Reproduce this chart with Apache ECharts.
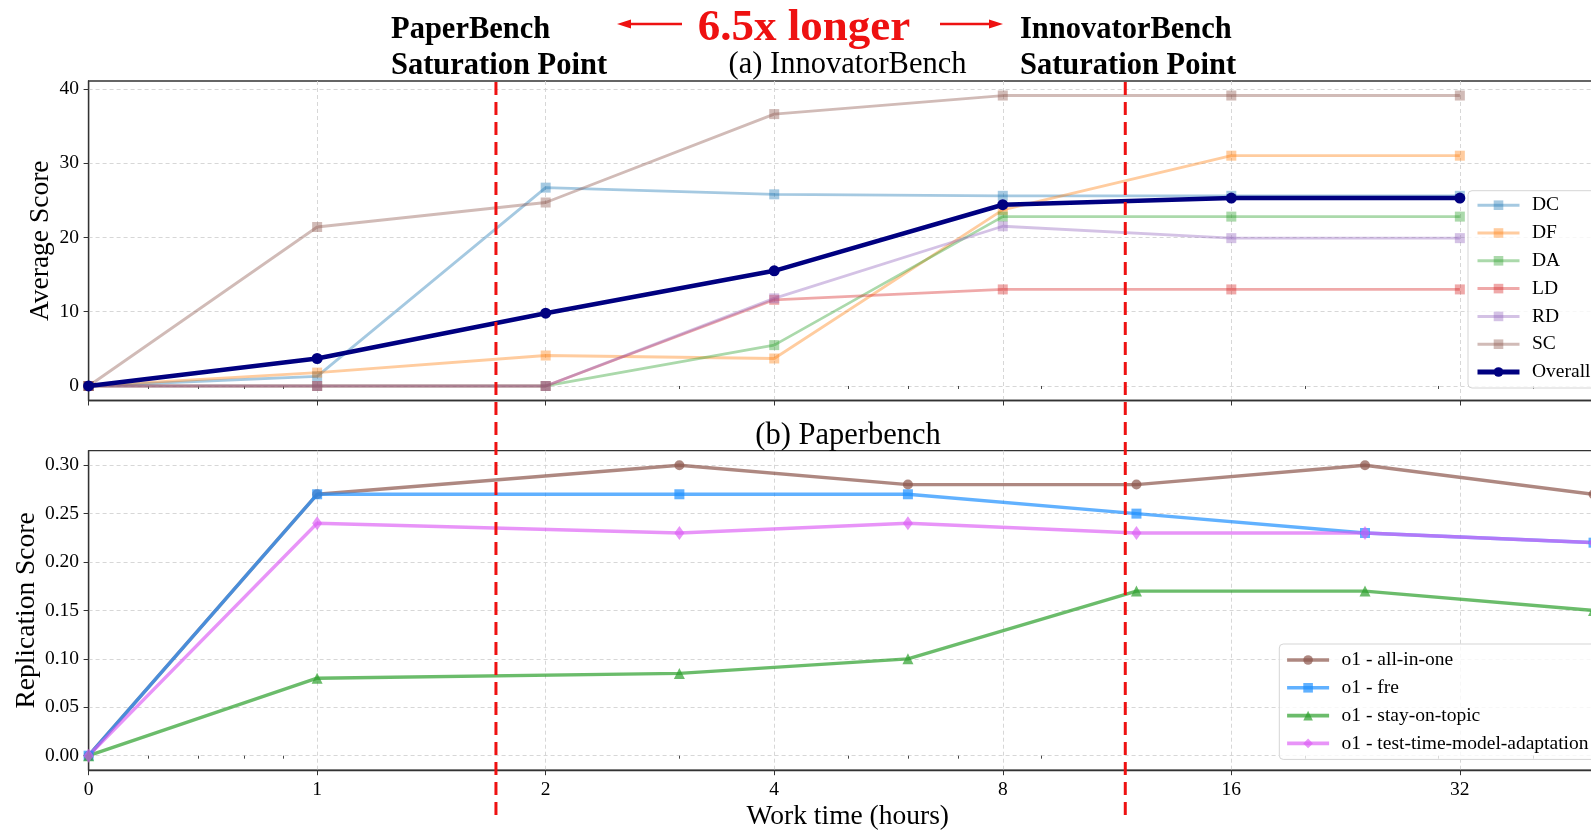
<!DOCTYPE html>
<html><head><meta charset="utf-8">
<script src="https://cdn.jsdelivr.net/npm/echarts@6/dist/echarts.min.js"></script>
<style>html,body{margin:0;padding:0;background:#fff}#c{width:1591px;height:831px}</style>
</head><body><div id="c"></div>
<script>
// ---------- data ----------
const topHours = [0, 1, 2, 4, 8, 16, 32];
const DC      = [0, 1.3, 26.7, 25.8, 25.6, 25.6, 25.6];
const DF      = [0, 1.8, 4.1, 3.7, 23.7, 31.0, 31.0];
const DA      = [0, 0, 0, 5.5, 22.8, 22.8, 22.8];
const LD      = [0, 0, 0, 11.6, 13.0, 13.0, 13.0];
const RD      = [0, 0, 0, 11.8, 21.5, 19.9, 19.9];
const SC      = [0, 21.4, 24.7, 36.6, 39.1, 39.1, 39.1];
const Overall = [0, 3.7, 9.8, 15.5, 24.4, 25.3, 25.3];

const bottomHours = [0, 1, 3, 6, 12, 24, 48];
const allInOne    = [0, 0.27, 0.30, 0.28, 0.28, 0.30, 0.27];
const fre         = [0, 0.27, 0.27, 0.27, 0.25, 0.23, 0.22];
const stayOnTopic = [0, 0.08, 0.085, 0.10, 0.17, 0.17, 0.15];
const ttma        = [0, 0.24, 0.23, 0.24, 0.23, 0.23, 0.22];

const xTickHours  = [0, 1, 2, 4, 8, 16, 32];
const xTickLabels = ['0', '1', '2', '4', '8', '16', '32'];
const xMinorHours = [0.26, 0.48, 0.68, 0.85, 3, 5, 6, 7, 9, 20, 30, 40];
const xMaxHours = 50;
const topYTicks = [0, 10, 20, 30, 40];
const bottomYTicks = [0, 0.05, 0.10, 0.15, 0.20, 0.25, 0.30];
const saturationHours = [1.72, 11.6]; // PaperBench, InnovatorBench

// ---------- helpers ----------
const SERIF = "'Liberation Serif','Times New Roman',Times,serif";
const tx = h => (h <= 1 ? h : 1 + Math.log2(h));   // symlog-style work-time scale
const pairs = (hs, vs) => hs.map((h, i) => [tx(h), vs[i]]);
const majorT = xTickHours.map(tx);
const minorT = xMinorHours.map(tx);
const AX = '#333';
const GRIDLINE = {show: true, lineStyle: {color: '#d2d2d2', width: 0.9, type: [4, 3]}};

function mainX(grid, labels, name) {
  return {
    type: 'value', gridIndex: grid, position: 'bottom', min: 0, max: tx(xMaxHours), splitNumber: 6,
    axisLine: {show: true, onZero: false, lineStyle: {color: AX, width: 1.3}},
    axisTick: {show: true, customValues: majorT, length: 5, lineStyle: {color: AX, width: 1}},
    axisLabel: labels ? {
      show: true, customValues: majorT, margin: 10, color: '#000', fontFamily: SERIF, fontSize: 19.5,
      formatter: v => { const i = majorT.findIndex(t => Math.abs(t - v) < 1e-6); return i >= 0 ? xTickLabels[i] : ''; }
    } : {show: false},
    splitLine: GRIDLINE,
    name: name || '', nameLocation: 'middle', nameGap: 33, nameMoveOverlap: false,
    nameTextStyle: {fontFamily: SERIF, fontSize: 27.5, color: '#000'}
  };
}
function minorX(grid) {
  return {
    type: 'value', gridIndex: grid, position: 'bottom', offset: 0, min: 0, max: tx(xMaxHours),
    axisLine: {show: false}, axisLabel: {show: false}, splitLine: {show: false},
    axisTick: {show: true, customValues: minorT, length: 3, lineStyle: {color: AX, width: 0.9}}
  };
}
function yAx(grid, min, max, ticks, fmt, name, gap, splitNumber) {
  return {
    type: 'value', gridIndex: grid, min: min, max: max, splitNumber: splitNumber,
    axisLine: {show: true, onZero: false, lineStyle: {color: AX, width: 1.3}},
    axisTick: {show: true, customValues: ticks, length: 5, lineStyle: {color: AX, width: 1}},
    axisLabel: {show: true, customValues: ticks, formatter: fmt, margin: 9.5, color: '#000', fontFamily: SERIF, fontSize: 19.5},
    splitLine: GRIDLINE,
    name: name, nameLocation: 'middle', nameGap: gap, nameMoveOverlap: false,
    nameTextStyle: {fontFamily: SERIF, fontSize: 27.5, color: '#000'}
  };
}
function topSeries(name, vals, color, opts) {
  opts = opts || {};
  return {
    type: 'line', name: name, xAxisIndex: 0, yAxisIndex: 0, data: pairs(topHours, vals),
    symbol: opts.symbol || 'rect', symbolSize: opts.size || 10, showSymbol: true,
    lineStyle: {color: color, width: opts.width || 2.8}, itemStyle: {color: color},
    emphasis: {disabled: true}, z: opts.z || 2, animation: false
  };
}
function bottomSeries(name, vals, color, symbol, size) {
  return {
    type: 'line', name: name, xAxisIndex: 2, yAxisIndex: 1, data: pairs(bottomHours, vals),
    symbol: symbol, symbolSize: size, showSymbol: true,
    lineStyle: {color: color, width: 3.4}, itemStyle: {color: color},
    emphasis: {disabled: true}, z: 2, animation: false
  };
}

const legendCommon = {
  orient: 'vertical', itemWidth: 42, itemHeight: 12, itemGap: 7.8, selectedMode: false,
  backgroundColor: 'rgba(255,255,255,0.8)', borderColor: '#d5d5d5', borderWidth: 1, borderRadius: 4,
  textStyle: {fontFamily: SERIF, fontSize: 19.5, color: '#000', lineHeight: 20, padding: [0, 0, 0, 7.5]}
};

const topNames = ['DC', 'DF', 'DA', 'LD', 'RD', 'SC', 'Overall'];
const bottomNames = ['o1 - all-in-one', 'o1 - fre', 'o1 - stay-on-topic', 'o1 - test-time-model-adaptation'];

const option = {
  backgroundColor: '#fff',
  animation: false,
  grid: [
    {left: 88.6, top: 81, width: 1518.4, height: 319.5, show: true, borderColor: AX, borderWidth: 1.3,
     containLabel: false, outerBoundsMode: 'none'},
    {left: 88.6, top: 450.7, width: 1518.4, height: 319.5, show: true, borderColor: AX, borderWidth: 1.3,
     containLabel: false, outerBoundsMode: 'none'}
  ],
  xAxis: [mainX(0, false), minorX(0), mainX(1, true, 'Work time (hours)'), minorX(1)],
  yAxis: [
    yAx(0, -1.955, 41.055, topYTicks, v => String(v), 'Average Score', 33.5, 4),
    yAx(1, -0.015, 0.315, bottomYTicks, v => v.toFixed(2), 'Replication Score', 47.5, 6)
  ],
  legend: [
    Object.assign({}, legendCommon, {
      data: topNames.map(n => ({name: n, lineStyle: {width: n === 'Overall' ? 5 : 3}})),
      left: 1468, top: 190.7, padding: [4.5, 8, 6, 7]}),
    Object.assign({}, legendCommon, {
      data: bottomNames.map(n => ({name: n, lineStyle: {width: 3.6}})),
      left: 1279.3, top: 644, padding: [6, 8, 6, 6]})
  ],
  series: [
    topSeries('DC', DC, 'rgba(31,119,180,0.4)'),
    topSeries('DF', DF, 'rgba(255,127,14,0.4)'),
    topSeries('DA', DA, 'rgba(44,160,44,0.4)'),
    topSeries('LD', LD, 'rgba(214,39,40,0.4)'),
    topSeries('RD', RD, 'rgba(148,103,189,0.4)'),
    topSeries('SC', SC, 'rgba(140,86,75,0.4)'),
    topSeries('Overall', Overall, '#000080', {symbol: 'circle', size: 11, width: 4.5, z: 5}),
    bottomSeries('o1 - all-in-one', allInOne, 'rgba(140,86,75,0.7)', 'circle', 10),
    bottomSeries('o1 - fre', fre, 'rgba(30,144,255,0.7)', 'rect', 10),
    bottomSeries('o1 - stay-on-topic', stayOnTopic, 'rgba(44,160,44,0.7)', 'triangle', 11),
    bottomSeries('o1 - test-time-model-adaptation', ttma, 'rgba(220,90,245,0.65)', 'diamond', [10, 14])
  ]
};

const chart = echarts.init(document.getElementById('c'), null, {renderer: 'canvas'});
chart.setOption(option);

// ---------- annotations ----------
const RED = '#ee1111';
const satX = saturationHours.map(h => chart.convertToPixel({xAxisIndex: 0}, tx(h)));
const txt = (text, x, y, size, opts) => ({
  type: 'text', x: x, y: y, z: 50,
  style: Object.assign({text: text, fontFamily: SERIF, fontSize: size, fill: '#000',
    align: 'left', verticalAlign: 'middle'}, opts || {})
});
const graphic = [];
satX.forEach(x => graphic.push({
  type: 'line', z: 100, silent: true,
  shape: {x1: x, y1: 82, x2: x, y2: 815},
  style: {stroke: RED, lineWidth: 3, lineDash: [13, 7]}
}));
graphic.push(txt('PaperBench', 391, 30, 30.5, {fontWeight: 'bold'}));
graphic.push(txt('Saturation Point', 391, 66, 30.5, {fontWeight: 'bold'}));
graphic.push(txt('InnovatorBench', 1020, 30, 30.5, {fontWeight: 'bold'}));
graphic.push(txt('Saturation Point', 1020, 66, 30.5, {fontWeight: 'bold'}));
graphic.push(txt('6.5x longer', 804, 28, 45, {fontWeight: 'bold', fill: RED, align: 'center'}));
graphic.push(txt('(a) InnovatorBench', 847.5, 65, 30.5, {align: 'center'}));
graphic.push(txt('(b) Paperbench', 848, 436, 30.5, {align: 'center'}));
// arrows
graphic.push({type: 'line', z: 50, shape: {x1: 629, y1: 24, x2: 682, y2: 24}, style: {stroke: RED, lineWidth: 2.6}});
graphic.push({type: 'polygon', z: 50, shape: {points: [[617, 24], [631, 19.5], [631, 28.5]]}, style: {fill: RED}});
graphic.push({type: 'line', z: 50, shape: {x1: 940, y1: 24, x2: 991, y2: 24}, style: {stroke: RED, lineWidth: 2.6}});
graphic.push({type: 'polygon', z: 50, shape: {points: [[1003, 24], [989, 19.5], [989, 28.5]]}, style: {fill: RED}});
chart.setOption({graphic: graphic});
</script></body></html>
